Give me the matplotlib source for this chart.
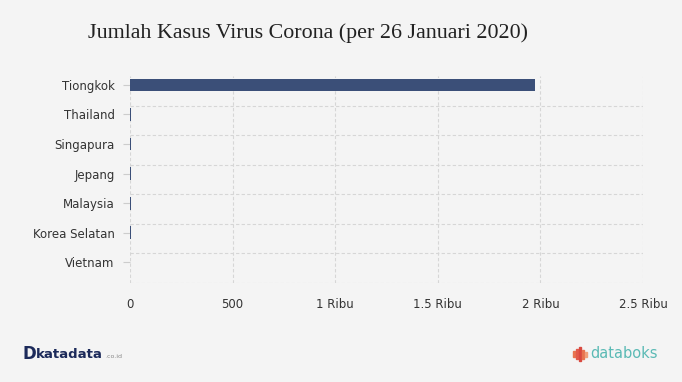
import matplotlib.pyplot as plt
from matplotlib.patches import Rectangle

# data (per 26 Januari 2020)
negara = ["Tiongkok", "Thailand", "Singapura", "Jepang", "Malaysia", "Korea Selatan", "Vietnam"]
kasus = [1975, 5, 4, 4, 4, 3, 2]
xticks = [0, 500, 1000, 1500, 2000, 2500]
xlabels = ["0", "500", "1 Ribu", "1.5 Ribu", "2 Ribu", "2.5 Ribu"]

bg = "#f4f4f4"
fig = plt.figure(figsize=(6.82, 3.82), dpi=100, facecolor=bg)
ax = fig.add_axes([130 / 682, 1 - 283 / 382, 513 / 682, 207 / 382], facecolor=bg)

pos = [i + 0.30 for i in range(len(negara))]
ax.barh(pos, kasus, height=0.43, color="#3b4f78", zorder=3)

ax.set_xlim(0, 2500)
ax.set_ylim(len(negara), 0)
ax.set_xticks(xticks)
ax.set_xticklabels(xlabels)
ax.set_yticks(pos)
ax.set_yticklabels(negara)
ax.tick_params(axis="x", length=0, pad=11, labelsize=8.5, labelcolor="#333333")
ax.tick_params(axis="y", length=5, width=0.8, color="#cccccc", pad=6,
               labelsize=8.5, labelcolor="#333333")

for s in ax.spines.values():
    s.set_visible(False)

# grid lines
for v in xticks:
    ax.axvline(v, color="#d6d6d6", lw=0.8, ls=(0, (3, 2)), zorder=1)
for h in range(1, len(negara) + 1):
    ax.axhline(h, color="#d6d6d6", lw=0.8, ls=(0, (3, 2)), zorder=1)

fig.text(88 / 682, 1 - 33 / 382, "Jumlah Kasus Virus Corona (per 26 Januari 2020)",
         family="Liberation Serif", fontsize=15.8, color="#222222", va="center")

# footer logos
fig.text(22 / 682, 1 - 354 / 382, "D", fontsize=12, fontweight="bold",
         color="#1c2a5a", va="center")
fig.text(36 / 682, 1 - 355 / 382, "katadata", fontsize=9.5, fontweight="bold",
         color="#1c2a5a", va="center")
fig.text(105 / 682, 1 - 357 / 382, ".co.id", fontsize=4.5, color="#888888", va="center")

for i, (hh, c) in enumerate([(6, "#e8734f"), (10, "#e25a4a"), (14, "#d9483f"), (9, "#e8734f"), (5, "#f0a07a")]):
    fig.add_artist(Rectangle(((573 + i * 3) / 682, 1 - (354 + hh / 2) / 382), 1.5 / 682, hh / 382,
                             color=c, transform=fig.transFigure))
fig.text(590 / 682, 1 - 353 / 382, "databoks", fontsize=10.5, color="#5bbab5", va="center")

fig.savefig("out.png", dpi=100, facecolor=bg)
